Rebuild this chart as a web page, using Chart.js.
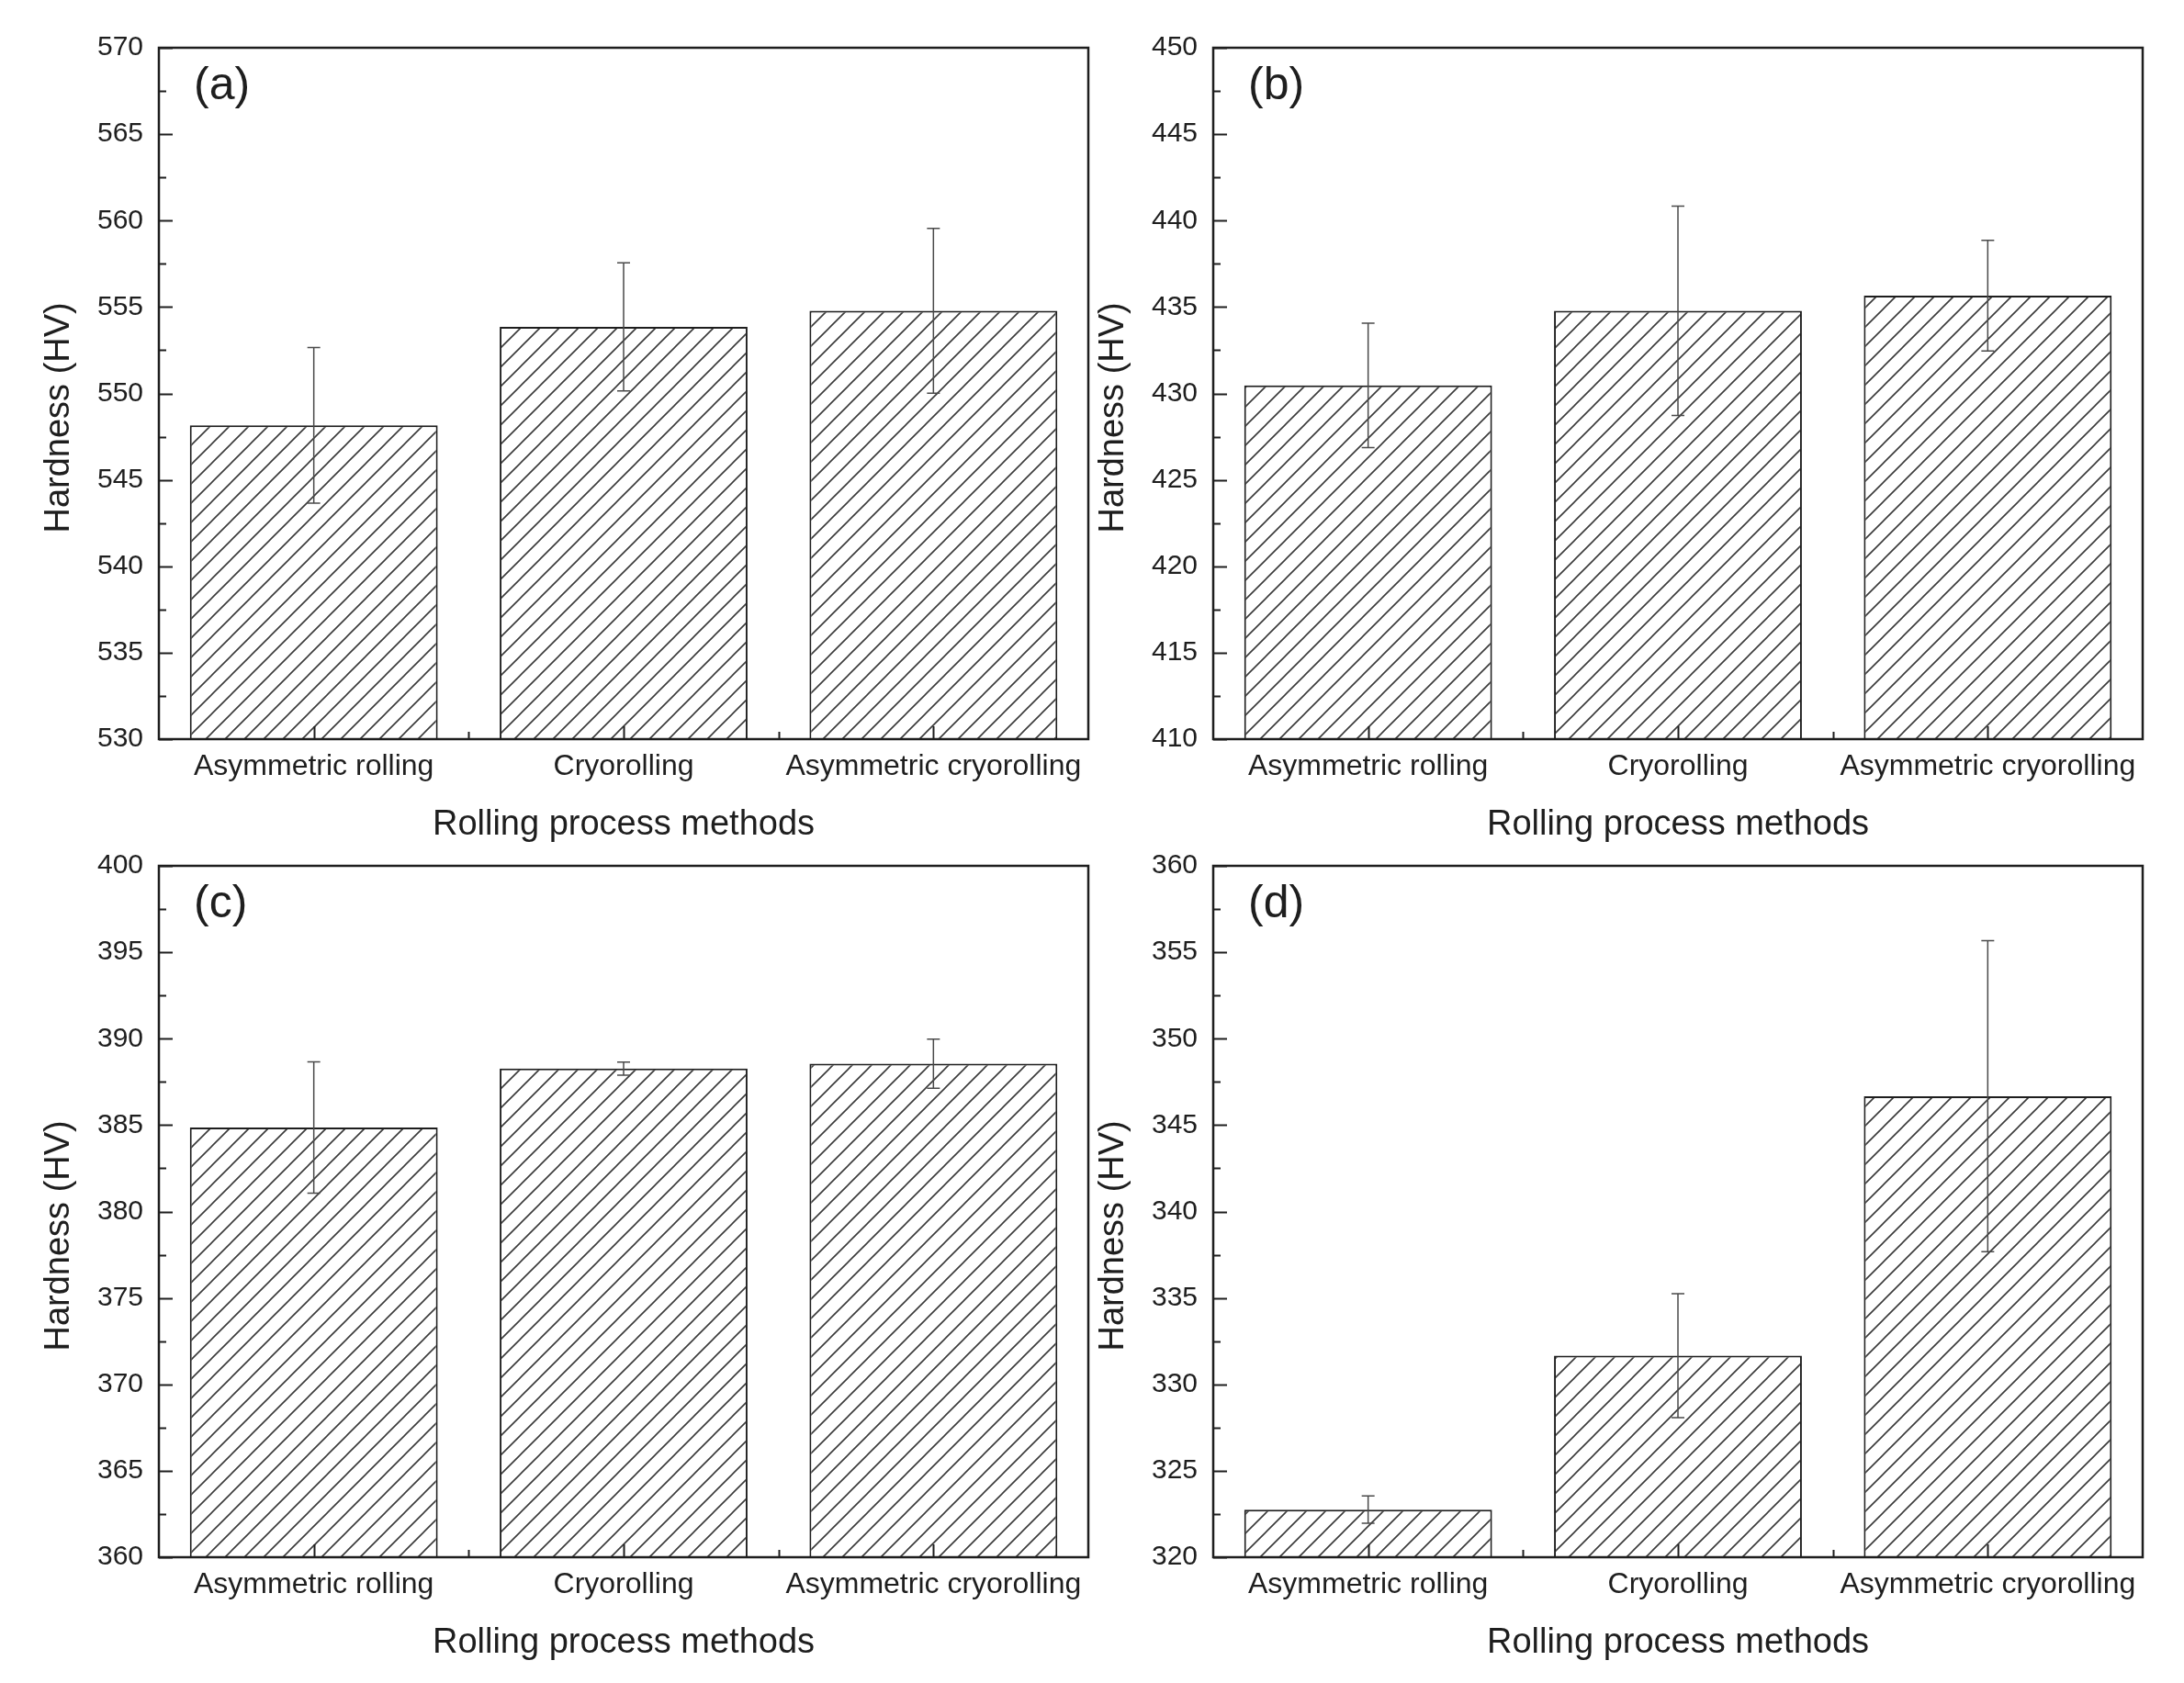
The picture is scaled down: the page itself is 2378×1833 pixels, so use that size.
<!DOCTYPE html>
<html>
<head>
<meta charset="utf-8">
<script src="https://cdn.jsdelivr.net/npm/chart.js@4.4.1/dist/chart.umd.min.js"></script>
<style>
  html, body { margin: 0; padding: 0; background: #fff; }
  body { width: 2378px; height: 1833px; position: relative; overflow: hidden; }
  canvas { position: absolute; }
</style>
</head>
<body>
<canvas id="chartA" width="1189" height="925" style="left:0px;top:0px"></canvas>
<canvas id="chartB" width="1189" height="925" style="left:1148px;top:0px"></canvas>
<canvas id="chartC" width="1189" height="925" style="left:0px;top:891px"></canvas>
<canvas id="chartD" width="1189" height="925" style="left:1148px;top:891px"></canvas>
<script>
// Data
const categories = ['Asymmetric rolling', 'Cryorolling', 'Asymmetric cryorolling'];

const hardnessA = [548.15, 553.85, 554.78];
const errorA = [4.5, 3.7, 4.77];
const rangeA = [530, 570];

const hardnessB = [430.47, 434.78, 435.66];
const errorB = [3.6, 6.06, 3.2];
const rangeB = [410, 450];

const hardnessC = [384.86, 388.27, 388.55];
const errorC = [3.8, 0.38, 1.42];
const rangeC = [360, 400];

const hardnessD = [322.75, 331.66, 346.67];
const errorD = [0.79, 3.58, 9.0];
const rangeD = [320, 360];

const panelLabels = ['(a)', '(b)', '(c)', '(d)'];

const FONT = '"Liberation Sans", Arial, sans-serif';
const INK = '#1e1e1e';

// diagonal hatch fill "////"
function makeHatch() {
    const s = 21;
    const c = document.createElement('canvas');
    c.width = s;
    c.height = s;
    const g = c.getContext('2d');
    g.fillStyle = '#ffffff';
    g.fillRect(0, 0, s, s);
    g.strokeStyle = '#3a3a3a';
    g.lineWidth = 1.6;
    g.beginPath();
    for (const k of [0, s, 2 * s]) {
        g.moveTo(-1, k + 1);
        g.lineTo(s + 1, k - s - 1);
    }
    g.stroke();
    return g.createPattern(c, 'repeat');
}

// frame, inward ticks, error bars and panel label
const decorPlugin = {
    id: 'decor',
    afterDatasetsDraw(chart, args, opts) {
        const ctx = chart.ctx;
        const meta = chart.getDatasetMeta(0);
        const y = chart.scales.y;
        ctx.save();
        ctx.strokeStyle = '#4a4a4a';
        ctx.lineWidth = 1.5;
        meta.data.forEach((bar, i) => {
            const v = chart.data.datasets[0].data[i];
            const e = opts.errors[i];
            const yt = y.getPixelForValue(v + e);
            const yb = y.getPixelForValue(v - e);
            ctx.beginPath();
            ctx.moveTo(bar.x, yt);
            ctx.lineTo(bar.x, yb);
            ctx.moveTo(bar.x - 7, yt);
            ctx.lineTo(bar.x + 7, yt);
            ctx.moveTo(bar.x - 7, yb);
            ctx.lineTo(bar.x + 7, yb);
            ctx.stroke();
        });
        ctx.restore();
    },
    afterDraw(chart, args, opts) {
        const ctx = chart.ctx;
        const area = chart.chartArea;
        const x = chart.scales.x;
        const y = chart.scales.y;
        ctx.save();
        ctx.strokeStyle = INK;
        ctx.lineWidth = 2.5;
        ctx.strokeRect(area.left, area.top, area.right - area.left, area.bottom - area.top);

        ctx.lineWidth = 2;
        ctx.beginPath();
        for (let v = y.min; v <= y.max + 0.001; v += 2.5) {
            const py = Math.round(y.getPixelForValue(v)) + 0.5;
            const len = (Math.round(v * 10) % 50 === 0) ? 15 : 8;
            ctx.moveTo(area.left, py);
            ctx.lineTo(area.left + len, py);
        }
        const n = chart.data.labels.length;
        for (let i = 0; i < n; i++) {
            const px = Math.round(x.getPixelForValue(i)) + 0.5;
            ctx.moveTo(px, area.bottom);
            ctx.lineTo(px, area.bottom - 14);
            if (i < n - 1) {
                const mx = Math.round(x.getPixelForValue(i + 0.5)) + 0.5;
                ctx.moveTo(mx, area.bottom);
                ctx.lineTo(mx, area.bottom - 8);
            }
        }
        ctx.stroke();

        ctx.fillStyle = INK;
        ctx.font = '50px ' + FONT;
        ctx.textAlign = 'left';
        ctx.textBaseline = 'alphabetic';
        ctx.fillText(opts.label, area.left + 38, area.top + 56);
        ctx.restore();
    }
};

function drawPanel(id, values, errors, range, label) {
    const ctx = document.getElementById(id).getContext('2d');
    return new Chart(ctx, {
        type: 'bar',
        data: {
            labels: categories,
            datasets: [{
                data: values,
                backgroundColor: makeHatch(),
                borderColor: INK,
                borderWidth: 2,
                borderSkipped: false,
                barPercentage: 0.8,
                categoryPercentage: 1.0
            }]
        },
        options: {
            responsive: false,
            animation: false,
            devicePixelRatio: 1,
            events: [],
            layout: {
                autoPadding: false,
                padding: { left: 0, top: 52, right: 4, bottom: 0 }
            },
            plugins: {
                legend: { display: false },
                tooltip: { enabled: false },
                decor: { errors: errors, label: label }
            },
            scales: {
                x: {
                    type: 'category',
                    grid: { display: false, drawTicks: false },
                    border: { display: false },
                    ticks: { color: INK, font: { family: FONT, size: 32 }, padding: 11, maxRotation: 0 },
                    title: {
                        display: true,
                        text: 'Rolling process methods',
                        color: INK,
                        font: { family: FONT, size: 38 },
                        padding: { top: 0, bottom: 4 }
                    },
                    afterFit: s => { s.height = 120; }
                },
                y: {
                    min: range[0],
                    max: range[1],
                    grid: { display: false, drawTicks: false },
                    border: { display: false },
                    ticks: { stepSize: 5, color: INK, font: { family: FONT, size: 30 }, padding: 17 },
                    title: {
                        display: true,
                        text: 'Hardness (HV)     ',
                        color: INK,
                        font: { family: FONT, size: 38 },
                        padding: { top: 42, bottom: 0 }
                    },
                    afterFit: s => { s.width = 173; }
                }
            }
        },
        plugins: [decorPlugin]
    });
}

drawPanel('chartA', hardnessA, errorA, rangeA, panelLabels[0]);
drawPanel('chartB', hardnessB, errorB, rangeB, panelLabels[1]);
drawPanel('chartC', hardnessC, errorC, rangeC, panelLabels[2]);
drawPanel('chartD', hardnessD, errorD, rangeD, panelLabels[3]);
</script>
</body>
</html>
